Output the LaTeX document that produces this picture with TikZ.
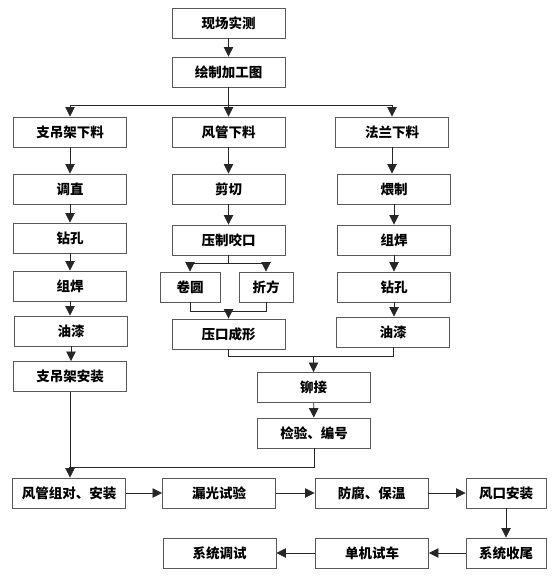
\documentclass[tikz,border=0pt]{standalone}
\usepackage{fontspec}
\setmainfont{Noto Sans CJK SC}
\usetikzlibrary{arrows.meta,calc}
\begin{document}
\begin{tikzpicture}[x=1pt,y=-1pt,
 box/.style={draw=black!65,line width=0.9pt,minimum width=113pt,minimum height=30pt,inner sep=0pt,font=\fontsize{13.5}{14}\selectfont\bfseries,fill=white},
 arr/.style={draw=black!85,line width=0.8pt,-{Triangle[width=9.5pt,length=9.5pt]}},
 ln/.style={draw=black!85,line width=0.8pt}]
\useasboundingbox (0,0) rectangle (555,577);
\node[box] (xc) at (228.5,23) {现场实测};
\node[box] (hz) at (228.5,72) {绘制加工图};
\node[box] (zd1) at (70,132) {支吊架下料};
\node[box] (fg1) at (228.5,132) {风管下料};
\node[box] (fl1) at (392,132) {法兰下料};
\node[box] (tz) at (70,189) {调直};
\node[box] (jq) at (228.5,189) {剪切};
\node[box] (wz) at (394,189) {煨制};
\node[box] (zk1) at (70,238) {钻孔};
\node[box] (yz) at (228.5,240) {压制咬口};
\node[box] (zh2) at (394,240) {组焊};
\node[box] (zh1) at (70,286) {组焊};
\node[box,minimum width=60pt] (jy) at (190,287) {卷圆};
\node[box,minimum width=54pt] (zf) at (266,287) {折方};
\node[box] (zk2) at (394,287) {钻孔};
\node[box] (yq1) at (71,331) {油漆};
\node[box] (yk) at (228.5,334) {压口成形};
\node[box] (yq2) at (393,332) {油漆};
\node[box] (az) at (70,376.5) {支吊架安装};
\node[box] (mj) at (313.5,387.5) {铆接};
\node[box] (jy2) at (314,433) {检验、编号};
\node[box] (fz) at (69,493) {风管组对、安装};
\node[box] (lg) at (219,493) {漏光试验};
\node[box] (ff) at (371.5,493) {防腐、保温};
\node[box,minimum width=80pt] (fk) at (506,493) {风口安装};
\node[box] (xt) at (219.5,553) {系统调试};
\node[box] (dj) at (372,553) {单机试车};
\node[box,minimum width=80pt] (sw) at (506,553) {系统收尾};
% connectors
\draw[arr] (xc) -- (hz);
\coordinate (b1) at (228.5,105);
\draw[ln] (hz.south) -- (b1);
\draw[arr] (b1) -| (zd1.north);
\draw[arr] (b1) -- (fg1.north);
\draw[arr] (b1) -| (fl1.north);
\draw[arr] (zd1) -- (tz);
\draw[arr] (tz) -- (zk1);
\draw[arr] (zk1) -- (zh1);
\draw[arr] (zh1.south) -- (zh1.south |- yq1.north);
\draw[arr] (yq1.south) -- (yq1.south |- az.north);
\draw[arr] (fg1) -- (jq);
\draw[arr] (jq) -- (yz);
\draw[arr] (fl1.south) -- (fl1.south |- wz.north);
\draw[arr] (wz) -- (zh2);
\draw[arr] (zh2) -- (zk2);
\draw[arr] (zk2.south) -- (zk2.south |- yq2.north);
\coordinate (b2) at (228.5,263);
\draw[ln] (yz.south) -- (b2);
\draw[arr] (b2) -| (jy.north);
\draw[arr] (b2) -| (zf.north);
\coordinate (m1) at (228.5,311);
\draw[ln] (jy.south) -- (jy.south |- m1) -- (zf.south |- m1) -- (zf.south);
\draw[arr] (m1) -- (yk.north);
\coordinate (m2) at (313.5,356);
\draw[ln] (yk.south) -- (yk.south |- m2) -- (yq2.south |- m2) -- (yq2.south);
\draw[arr] (m2) -- (mj.north);
\draw[arr] (mj) -- (jy2);
\coordinate (m3) at (69,467);
\draw[ln] (jy2.south) |- (m3);
\draw[arr] (az.south) -- (az.south |- fz.north);
\draw[arr] (fz) -- (lg);
\draw[arr] (lg) -- (ff);
\draw[arr] (ff) -- (fk);
\draw[arr] (fk) -- (sw);
\draw[arr] (sw) -- (dj);
\draw[arr] (dj) -- (xt);
\end{tikzpicture}
\end{document}
